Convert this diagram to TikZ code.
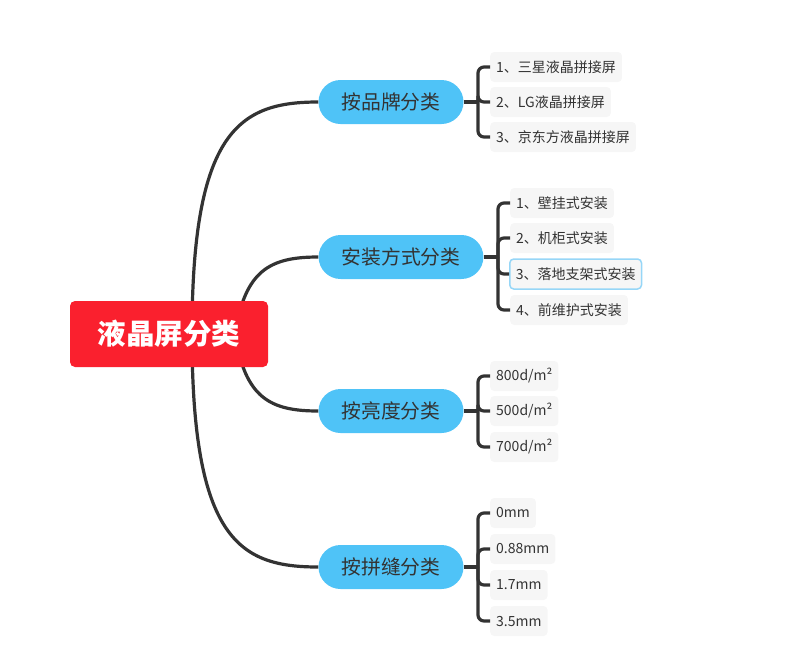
\documentclass[tikz,border=0pt]{standalone}
\usepackage{fontspec}
\setmainfont{Noto Sans CJK SC}
\usetikzlibrary{backgrounds}

\definecolor{rootred}{RGB}{250,32,46}
\definecolor{pillblue}{RGB}{79,195,247}
\definecolor{leafgray}{RGB}{246,246,246}
\definecolor{inkgray}{RGB}{51,51,51}
\definecolor{selblue}{RGB}{150,214,247}

\tikzset{
	rootbox/.style={fill=rootred,text=white,rounded corners=5pt,minimum width=198pt,
		minimum height=66pt,font=\fontsize{28.5}{31}\selectfont\bfseries},
	pill/.style={fill=pillblue,text=inkgray,rounded corners=22pt,minimum height=44pt,
		inner xsep=23pt,font=\fontsize{19.8}{22}\selectfont},
	leaf/.style={fill=leafgray,text=inkgray,rounded corners=4pt,minimum height=30pt,
		inner xsep=6pt,anchor=west,font=\fontsize{14}{16}\selectfont},
	link/.style={draw=inkgray,line width=3.2pt},
	brace/.style={draw=inkgray,line width=3.2pt,rounded corners=6pt}
}

\begin{document}
\begin{tikzpicture}[x=1pt,y=-1pt]
	\useasboundingbox (0,0) rectangle (798,662);
	
	%root
	\node[rootbox] (root) at (169,334) {液晶屏分类};
	
	%branches
	\node[pill] (brand) at (391,102) {按品牌分类};
	\node[pill] (mount) at (401,257) {安装方式分类};
	\node[pill] (light) at (391,411) {按亮度分类};
	\node[pill] (seam)  at (391,567) {按拼缝分类};
	
	%root to branches
	\begin{scope}[on background layer]
	\draw[link] (root.center) ++(23,0) .. controls (192,130) and (240,102) .. (brand.west);
	\draw[link] (root.center) ++(66,0) .. controls (245,270) and (270,257) .. (mount.west);
	\draw[link] (root.center) ++(66,0) .. controls (245,398) and (270,411) .. (light.west);
	\draw[link] (root.center) ++(23,0) .. controls (192,540) and (240,567) .. (seam.west);
	\end{scope}
	
	%brand leaves
	\node[leaf] (b1) at (490,67)  {1、三星液晶拼接屏};
	\node[leaf] (b2) at (490,102) {2、LG液晶拼接屏};
	\node[leaf] (b3) at (490,137) {3、京东方液晶拼接屏};
	\draw[link] (brand.east) -- (478,102) coordinate (jb);
	\foreach \n in {b1,b2,b3} \draw[brace] (jb) |- (\n.west);
	
	%mounting leaves
	\node[leaf] (m1) at (510,203) {1、壁挂式安装};
	\node[leaf] (m2) at (510,238) {2、机柜式安装};
	\node[leaf,draw=selblue,line width=1.5pt] (m3) at (509,274) {3、落地支架式安装};
	\node[leaf] (m4) at (510,310) {4、前维护式安装};
	\draw[link] (mount.east) -- (498,257) coordinate (jm);
	\foreach \n in {m1,m2,m3,m4} \draw[brace] (jm) |- (\n.west);
	
	%brightness leaves
	\node[leaf] (l1) at (490,376) {800d/m²};
	\node[leaf] (l2) at (490,411) {500d/m²};
	\node[leaf] (l3) at (490,447) {700d/m²};
	\draw[link] (light.east) -- (478,411) coordinate (jl);
	\foreach \n in {l1,l2,l3} \draw[brace] (jl) |- (\n.west);
	
	%seam leaves
	\node[leaf] (s1) at (490,513) {0mm};
	\node[leaf] (s2) at (490,549) {0.88mm};
	\node[leaf] (s3) at (490,585) {1.7mm};
	\node[leaf] (s4) at (490,621) {3.5mm};
	\draw[link] (seam.east) -- (478,567) coordinate (js);
	\foreach \n in {s1,s2,s3,s4} \draw[brace] (js) |- (\n.west);
	
\end{tikzpicture}
\end{document}
